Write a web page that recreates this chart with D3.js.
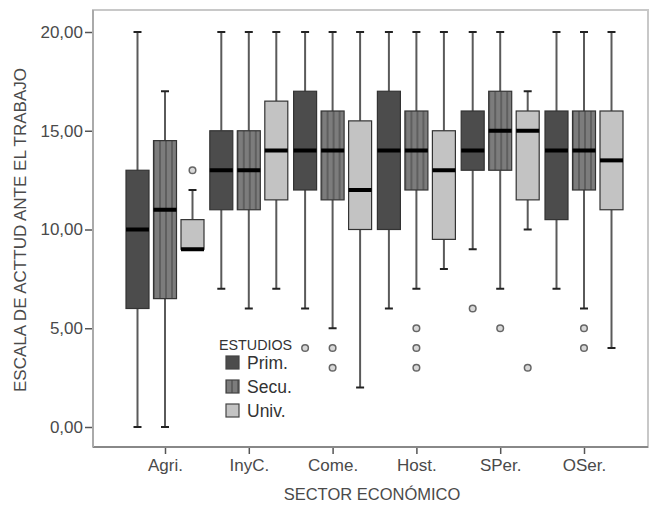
<!DOCTYPE html>
<html>
<head>
<meta charset="utf-8">
<script src="https://cdn.jsdelivr.net/npm/d3@7"></script>
<style>
  body { margin: 0; background: #fff; }
  svg { display: block; font-family: 'Liberation Sans', Arial, sans-serif; }
</style>
</head>
<body>
<svg width="653" height="507"></svg>
<script>
// Categories and levels
const sectors = ['Agri.', 'InyC.', 'Come.', 'Host.', 'SPer.', 'OSer.'];
const estudios = ['Prim.', 'Secu.', 'Univ.'];

// Box stats per sector: [min whisker, q1, median, q3, max whisker]
const primStats = [[0, 6, 10, 13, 20], [7, 11, 13, 15, 20], [6, 12, 14, 17, 20],
  [6, 10, 14, 17, 20], [9, 13, 14, 16, 20], [7, 10.5, 14, 16, 20]];
const secuStats = [[0, 6.5, 11, 14.5, 17], [6, 11, 13, 15, 20], [5, 11.5, 14, 16, 20],
  [7, 12, 14, 16, 20], [7, 13, 15, 17, 20], [6, 12, 14, 16, 20]];
const univStats = [[9, 9, 9, 10.5, 12], [7, 11.5, 14, 16.5, 20], [2, 10, 12, 15.5, 20],
  [8, 9.5, 13, 15, 20], [10, 11.5, 15, 16, 17], [4, 11, 13.5, 16, 20]];

// Outliers per sector
const primOutliers = [[], [], [4], [], [6], []];
const secuOutliers = [[], [], [4, 3], [5, 4, 3], [5], [5, 4]];
const univOutliers = [[13], [], [], [], [3], []];

const yTicks = [0, 5, 10, 15, 20];

const svg = d3.select('svg');
const plot = { left: 93, right: 648, top: 10, bottom: 447 };
const textColor = '#4a4a4a';

const x = d3.scalePoint().domain(sectors).range([plot.left + 72, plot.right - 64]);
const inner = d3.scalePoint().domain(estudios).range([-27.5, 27.5]);
const y = d3.scaleLinear().domain([0, 20]).range([427, 32]);
const boxW = 23;

// Stripe pattern for Secu.
const defs = svg.append('defs');
const pat = defs.append('pattern')
  .attr('id', 'stripes')
  .attr('patternUnits', 'userSpaceOnUse')
  .attr('width', 6)
  .attr('height', 6);
pat.append('rect').attr('width', 6).attr('height', 6).attr('fill', '#7c7c7c');
pat.append('rect').attr('x', 0).attr('width', 2).attr('height', 6).attr('fill', '#5f5f5f');

const fills = { 'Prim.': '#4c4c4c', 'Secu.': 'url(#stripes)', 'Univ.': '#c3c3c3' };

// Plot frame
svg.append('rect')
  .attr('x', plot.left)
  .attr('y', plot.top)
  .attr('width', plot.right - plot.left)
  .attr('height', plot.bottom - plot.top)
  .attr('fill', '#fff')
  .attr('stroke', '#c8c8c8')
  .attr('stroke-width', 2);

// Axes
const yAxis = svg.append('g')
  .attr('transform', `translate(${plot.left}, 0)`)
  .call(d3.axisLeft(y).tickValues(yTicks).tickSize(8).tickPadding(2)
    .tickFormat((d) => d3.format('.2f')(d).replace('.', ',')));
yAxis.select('.domain').remove();
yAxis.selectAll('line').attr('stroke', '#555').attr('stroke-width', 1.5);
yAxis.selectAll('text').attr('font-size', 17).attr('fill', textColor)
  .attr('font-family', 'Liberation Sans, Arial, sans-serif');

const xAxis = svg.append('g')
  .attr('transform', `translate(0, ${plot.bottom})`)
  .call(d3.axisBottom(x).tickSize(7).tickPadding(5));
xAxis.select('.domain').remove();
xAxis.selectAll('line').attr('stroke', '#555').attr('stroke-width', 1.5);
xAxis.selectAll('text').attr('font-size', 17).attr('fill', textColor)
  .attr('font-family', 'Liberation Sans, Arial, sans-serif');

svg.append('line')
  .attr('x1', plot.left).attr('x2', plot.right)
  .attr('y1', plot.bottom).attr('y2', plot.bottom)
  .attr('stroke', '#888').attr('stroke-width', 2);
svg.append('line')
  .attr('x1', plot.left).attr('x2', plot.left)
  .attr('y1', plot.top).attr('y2', plot.bottom)
  .attr('stroke', '#aaa').attr('stroke-width', 2);

// Axis titles
svg.append('text')
  .attr('x', 372)
  .attr('y', 500)
  .attr('text-anchor', 'middle')
  .attr('font-size', 16.5)
  .attr('fill', textColor)
  .text('SECTOR ECONÓMICO');

svg.append('text')
  .attr('transform', 'rotate(-90)')
  .attr('x', -230)
  .attr('y', 26)
  .attr('text-anchor', 'middle')
  .attr('font-size', 17)
  .attr('fill', textColor)
  .text('ESCALA DE ACTTUD ANTE EL TRABAJO');

// Build box rows
const statsBy = { 'Prim.': primStats, 'Secu.': secuStats, 'Univ.': univStats };
const outBy = { 'Prim.': primOutliers, 'Secu.': secuOutliers, 'Univ.': univOutliers };
const boxes = [];
sectors.forEach((s, i) => {
  estudios.forEach((e) => {
    const [lo, q1, med, q3, hi] = statsBy[e][i];
    boxes.push({ sector: s, estudio: e, lo, q1, med, q3, hi, out: outBy[e][i] });
  });
});

const g = svg.append('g');
const bx = g.selectAll('g.box')
  .data(boxes)
  .enter()
  .append('g')
  .attr('class', 'box')
  .attr('transform', (d) => `translate(${x(d.sector) + inner(d.estudio)}, 0)`);

// Whiskers
bx.append('line')
  .attr('y1', (d) => y(d.hi)).attr('y2', (d) => y(d.q3))
  .attr('stroke', '#5a5a5a').attr('stroke-width', 2);
bx.append('line')
  .attr('y1', (d) => y(d.q1)).attr('y2', (d) => y(d.lo))
  .attr('stroke', '#5a5a5a').attr('stroke-width', 2);
bx.filter((d) => d.hi > d.q3).append('line')
  .attr('x1', -4).attr('x2', 4)
  .attr('y1', (d) => y(d.hi)).attr('y2', (d) => y(d.hi))
  .attr('stroke', '#222').attr('stroke-width', 2);
bx.filter((d) => d.lo < d.q1).append('line')
  .attr('x1', -4).attr('x2', 4)
  .attr('y1', (d) => y(d.lo)).attr('y2', (d) => y(d.lo))
  .attr('stroke', '#222').attr('stroke-width', 2);

// Boxes
bx.append('rect')
  .attr('x', -boxW / 2)
  .attr('width', boxW)
  .attr('y', (d) => y(d.q3))
  .attr('height', (d) => y(d.q1) - y(d.q3))
  .attr('fill', (d) => fills[d.estudio])
  .attr('stroke', '#333')
  .attr('stroke-width', 1.2);

// Medians
bx.append('line')
  .attr('x1', -boxW / 2).attr('x2', boxW / 2)
  .attr('y1', (d) => y(d.med)).attr('y2', (d) => y(d.med))
  .attr('stroke', '#000').attr('stroke-width', 4);

// Outliers
bx.selectAll('circle')
  .data((d) => d.out)
  .enter()
  .append('circle')
  .attr('cx', 0)
  .attr('cy', (d) => y(d))
  .attr('r', 3.3)
  .attr('fill', '#d8d8d8')
  .attr('stroke', '#666')
  .attr('stroke-width', 1.5);

// Legend
const legend = svg.append('g').attr('transform', 'translate(219, 334)');
legend.append('rect')
  .attr('x', -2).attr('y', 0).attr('width', 80).attr('height', 88)
  .attr('fill', '#fff');
legend.append('text')
  .attr('x', 0).attr('y', 16)
  .attr('font-size', 14.3)
  .attr('fill', '#333')
  .text('ESTUDIOS');
estudios.forEach((e, i) => {
  legend.append('rect')
    .attr('x', 7).attr('y', 22 + i * 24)
    .attr('width', 13).attr('height', 13)
    .attr('fill', fills[e])
    .attr('stroke', '#444')
    .attr('stroke-width', 1.2);
  legend.append('text')
    .attr('x', 28).attr('y', 35 + i * 24)
    .attr('font-size', 17.5)
    .attr('fill', '#333')
    .text(e);
});
</script>
</body>
</html>
